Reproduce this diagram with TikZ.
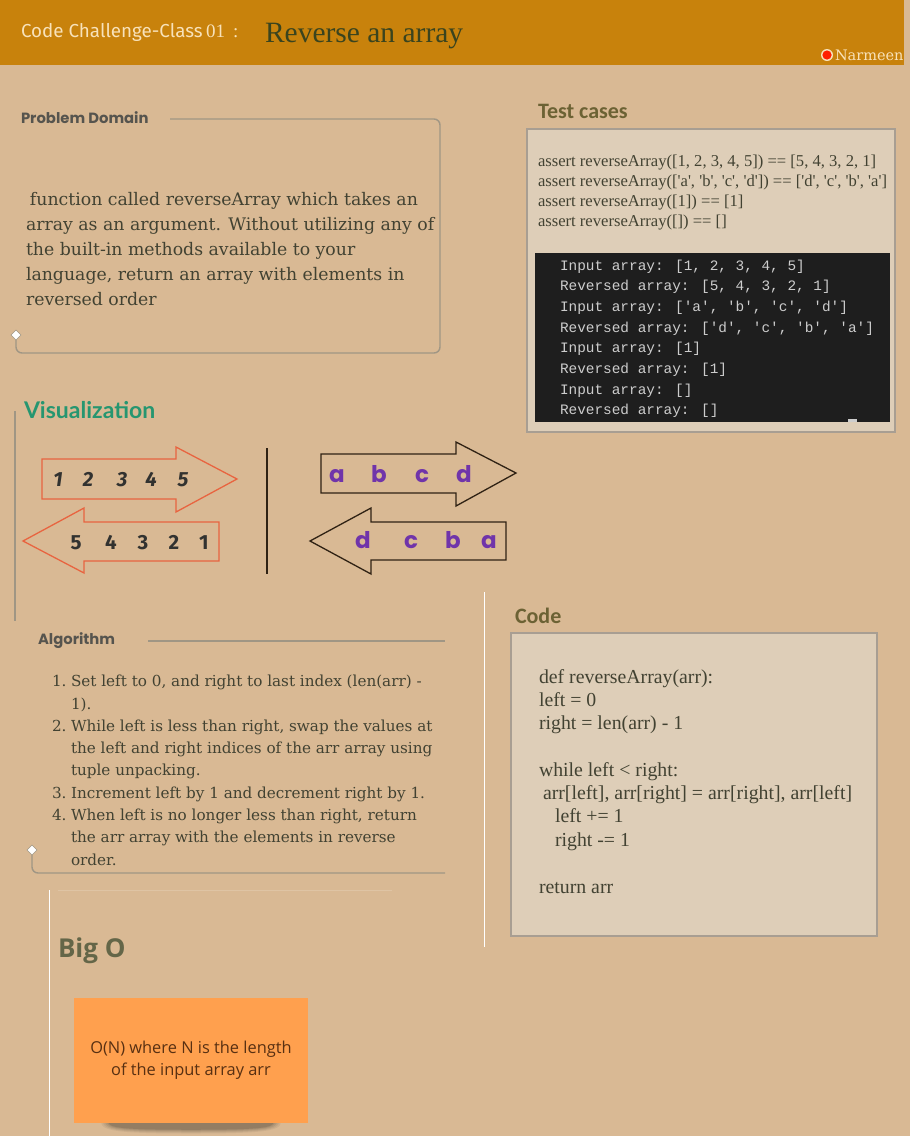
\documentclass[tikz,border=0pt]{standalone}
\usepackage{fontspec}
\setmainfont{DejaVu Serif}
\newfontfamily\tms{Liberation Serif}
\newfontfamily\monof{Liberation Mono}[Ligatures=TeXOff]
\newfontfamily\osans{Open Sans}
\newfontfamily\popf{Poppins}
\newfontfamily\carl{Carlito}
\newfontfamily\latof{Lato}
\newfontfamily\dvs{DejaVu Serif}
\newfontfamily\firaf{Fira Sans}
\newcommand\setfs[1]{\fontsize{#1}{#1}\selectfont}
\definecolor{bg}{RGB}{217,185,148}
\definecolor{hdr}{RGB}{200,130,12}
\definecolor{cream}{RGB}{248,226,186}
\definecolor{ttl}{RGB}{58,68,30}
\definecolor{frame}{RGB}{160,150,132}
\definecolor{boxfill}{RGB}{222,206,184}
\definecolor{boxline}{RGB}{168,158,146}
\definecolor{body}{RGB}{66,66,50}
\definecolor{olive}{RGB}{108,98,52}
\definecolor{green}{RGB}{38,150,112}
\definecolor{redarr}{RGB}{232,100,64}
\definecolor{darkarr}{RGB}{48,34,20}
\definecolor{purp}{RGB}{112,52,170}
\definecolor{digit}{RGB}{50,50,48}
\definecolor{termbg}{RGB}{30,30,30}
\definecolor{termtxt}{RGB}{205,205,205}
\definecolor{sticky}{RGB}{255,160,78}
\definecolor{stickytxt}{RGB}{88,48,18}
\definecolor{bigo}{RGB}{100,102,72}
\definecolor{hgray}{RGB}{86,84,78}
\begin{document}
\begin{tikzpicture}[x=1pt,y=-1pt,
  t/.style={anchor=base west,inner sep=0pt,outer sep=0pt},
  tc/.style={anchor=base,inner sep=0pt,outer sep=0pt},
  pd/.style={t,font=\dvs\setfs{17.3},text=body},
  alg/.style={t,font=\dvs\setfs{15.2},text=body},
  asrt/.style={t,font=\tms\setfs{16.6},text=body},
  termt/.style={t,font=\monof\setfs{14.4},text=termtxt},
  code/.style={t,font=\tms\setfs{19.8},text=body},
  sechead/.style={t,font=\popf\bfseries\setfs{14.8},text=hgray},
  olivehead/.style={t,font=\carl\bfseries\setfs{22},text=olive},
  dig/.style={tc,font=\firaf\bfseries\itshape\setfs{20.5},text=digit},
  digu/.style={tc,font=\firaf\bfseries\setfs{20.5},text=digit},
  let/.style={tc,font=\popf\bfseries\setfs{23},text=purp},
  framel/.style={draw=frame,line width=1.4pt},
  redarrow/.style={draw=redarr,line width=1.3pt},
  blkarrow/.style={draw=darkarr,line width=1.3pt},
  dmd/.style={fill=white,draw=frame,line width=0.6pt}
]
\useasboundingbox (0,0) rectangle (910,1136);
\fill[bg] (0,0) rectangle (910,1136);

% header
\fill[hdr] (0,0) rectangle (904,65);
\node[t,font=\firaf\setfs{18.8},text=cream] (hcc) at (21,37) {Code Challenge-Class};
\node[t,font=\tms\setfs{19},text=cream] (h01) at (206,37) {01};
\node[t,font=\tms\setfs{19},text=cream] (hcol) at (233,37) {:};
\node[t,font=\tms\setfs{29.5},text=ttl] (htitle) at (265,42) {Reverse an array};
\fill[cream] (827,55) circle (6);
\fill[red!75!orange] (827,55) circle (4.6);
\node[t,font=\dvs\setfs{14.5},text=cream] (hname) at (835,60) {Narmeen};

% problem domain
\node[sechead] (pdt) at (21,123) {Problem Domain};
\draw[framel,rounded corners=6] (170,119) -| (440,353) -| (16,335);
\draw[dmd] (16,330) -- (21,335) -- (16,340) -- (11,335) -- cycle;
\node[pd] (pd1) at (30,205) {function called reverseArray which takes an};
\node[pd] (pd2) at (26,230) {array as an argument. Without utilizing any of};
\node[pd] (pd3) at (26,255) {the built-in methods available to your};
\node[pd] (pd4) at (26,280) {language, return an array with elements in};
\node[pd] (pd5) at (26,305) {reversed order};

% test cases
\node[olivehead] (tct) at (538,118) {Test cases};
\draw[fill=boxfill,draw=boxline,line width=2pt] (527,129) rectangle (895,432);
\node[asrt] (a1) at (538,166) {assert reverseArray([1, 2, 3, 4, 5]) == [5, 4, 3, 2, 1]};
\node[asrt] (a2) at (538,186) {assert reverseArray(['a', 'b', 'c', 'd']) == ['d', 'c', 'b', 'a']};
\node[asrt] (a3) at (538,206) {assert reverseArray([1]) == [1]};
\node[asrt] (a4) at (538,226) {assert reverseArray([]) == []};
\fill[termbg] (535,253) rectangle (890,422);
\fill[termtxt] (848,419) rectangle (857,422);
\node[termt] (o1) at (560,270) {Input array: [1, 2, 3, 4, 5]};
\node[termt] (o2) at (560,290.7) {Reversed array: [5, 4, 3, 2, 1]};
\node[termt] (o3) at (560,311.4) {Input array: ['a', 'b', 'c', 'd']};
\node[termt] (o4) at (560,332.1) {Reversed array: ['d', 'c', 'b', 'a']};
\node[termt] (o5) at (560,352.8) {Input array: [1]};
\node[termt] (o6) at (560,373.5) {Reversed array: [1]};
\node[termt] (o7) at (560,394.2) {Input array: []};
\node[termt] (o8) at (560,414.9) {Reversed array: []};

% visualization
\node[t,font=\latof\bfseries\setfs{23},text=green] (vt) at (24,418.5) {Visualization};
\draw[frame,line width=1.2pt] (15,411) -- (15,621);
\draw[redarrow] (42,459) -- (176,459) -- (176,447) -- (237,479) -- (176,512) -- (176,499) -- (42,499) -- cycle;
\draw[redarrow] (219,522) -- (84,522) -- (84,508) -- (23,541) -- (84,573) -- (84,561) -- (219,561) -- cycle;
\draw[darkarr,line width=1.3pt] (267,448) -- (267,574);
\draw[blkarrow] (321,454) -- (456,454) -- (456,442) -- (516,473) -- (456,506) -- (456,493) -- (321,493) -- cycle;
\draw[blkarrow] (506,522) -- (371,522) -- (371,508) -- (310,541) -- (371,574) -- (371,560) -- (506,560) -- cycle;
\node[dig] (n1) at (58,486) {1};
\node[dig] (n2) at (88,486) {2};
\node[dig] (n3) at (122,486) {3};
\node[dig] (n4) at (151,486) {4};
\node[dig] (n5) at (183,486) {5};
\node[digu] (m5) at (76,549) {5};
\node[digu] (m4) at (111,549) {4};
\node[digu] (m3) at (143,549) {3};
\node[digu] (m2) at (174,549) {2};
\node[digu] (m1) at (204,549) {1};
\node[let] (la) at (337,482) {a};
\node[let] (lb) at (379,482) {b};
\node[let] (lc) at (422,482) {c};
\node[let] (ld) at (464,482) {d};
\node[let] (rd) at (363,548) {d};
\node[let] (rc) at (411,548) {c};
\node[let] (rb) at (453,548) {b};
\node[let] (ra) at (489,548) {a};

% algorithm
\node[sechead] (algt) at (38,644) {Algorithm};
\draw[framel] (148,641) -- (445,641);
\draw[framel,rounded corners=6] (32,850) |- (445,873);
\draw[dmd] (32,845) -- (37,850) -- (32,855) -- (27,850) -- cycle;
\node[alg] (k1) at (52,686) {1.};
\node[alg] (k2) at (52,731) {2.};
\node[alg] (k3) at (52,798) {3.};
\node[alg] (k4) at (52,820) {4.};
\node[alg] (g1) at (71,686) {Set left to 0, and right to last index (len(arr) -};
\node[alg] (g2) at (71,709) {1).};
\node[alg] (g3) at (71,731) {While left is less than right, swap the values at};
\node[alg] (g4) at (71,753) {the left and right indices of the arr array using};
\node[alg] (g5) at (71,775) {tuple unpacking.};
\node[alg] (g6) at (71,798) {Increment left by 1 and decrement right by 1.};
\node[alg] (g7) at (71,820) {When left is no longer less than right, return};
\node[alg] (g8) at (71,842) {the arr array with the elements in reverse};
\node[alg] (g9) at (71,865) {order.};

% code
\draw[white,line width=1pt] (484,592) -- (484,947);
\node[olivehead] (codet) at (515,623) {Code};
\draw[fill=boxfill,draw=boxline,line width=2pt] (511,633) rectangle (877,936);
\node[code] (c1) at (539,683) {def reverseArray(arr):};
\node[code] (c2) at (539,706) {left = 0};
\node[code] (c3) at (539,729) {right = len(arr) - 1};
\node[code] (c4) at (539,776) {while left < right:};
\node[code] (c5) at (543,799) {arr[left], arr[right] = arr[right], arr[left]};
\node[code] (c6) at (555,822) {left += 1};
\node[code] (c7) at (555,846) {right -= 1};
\node[code] (c8) at (539,893) {return arr};

% big O
\draw[white,line width=1pt] (49,890) -- (49,1136);
\draw[bg!85!white,line width=0.8pt] (58,890) -- (392,890);
\node[t,font=\osans\bfseries\setfs{26},text=bigo] (bigt) at (58,957) {Big O};
\foreach \d/\o in {9/0.05,7/0.06,5/0.07,3/0.08,1.5/0.1}{
  \fill[black,opacity=\o] (110-\d,1122) -- (272+\d,1122) .. controls (272+\d,1127+\d/2) and (260,1129+\d/2) .. (191,1129+\d/2) .. controls (122,1129+\d/2) and (110-\d,1127+\d/2) .. (110-\d,1122) -- cycle;
}
\fill[sticky] (74,998) rectangle (308,1123);
\node[tc,font=\osans\setfs{16.4},text=stickytxt] (bo1) at (191,1053) {O(N) where N is the length};
\node[tc,font=\osans\setfs{16.4},text=stickytxt] (bo2) at (191,1075) {of the input array arr};
\end{tikzpicture}
\end{document}
